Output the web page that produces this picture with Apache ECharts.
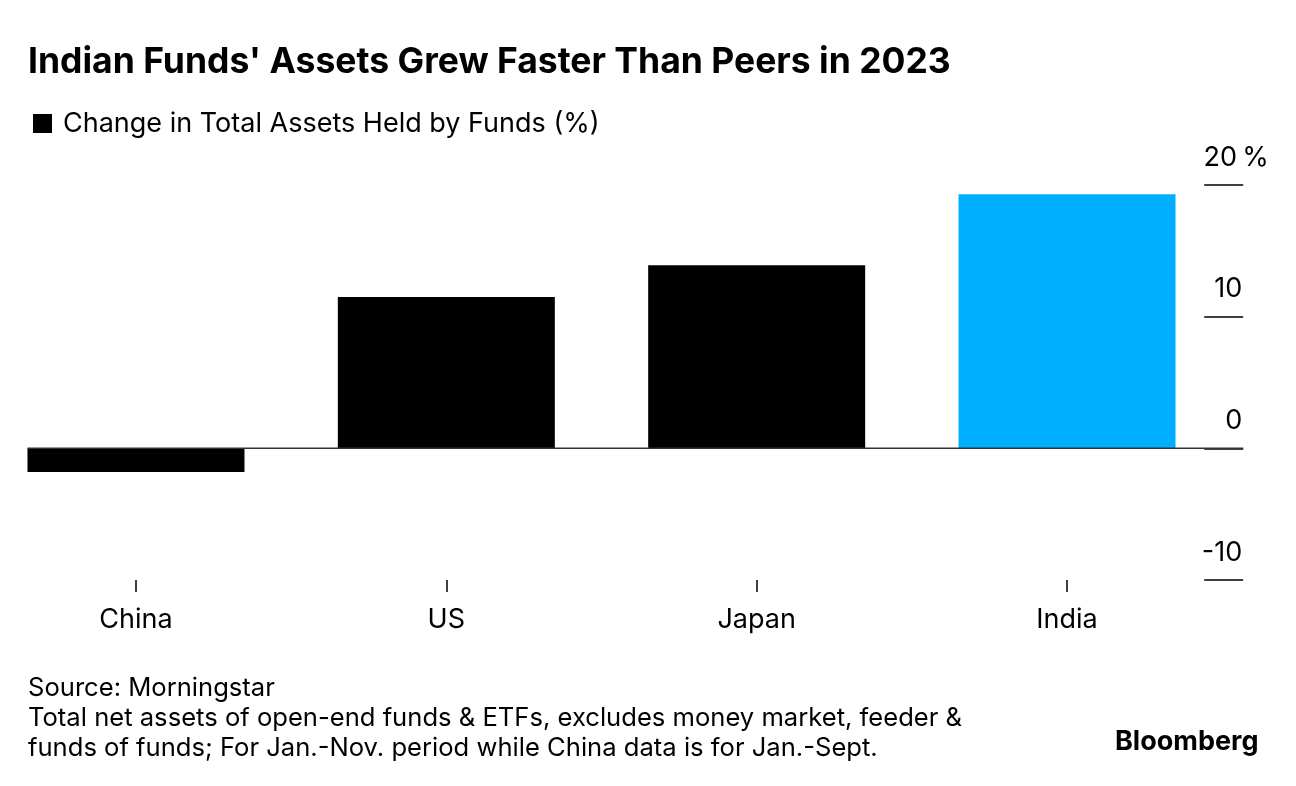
<!DOCTYPE html>
<html>
<head>
<meta charset="utf-8">
<script src="https://cdn.jsdelivr.net/npm/echarts@6/dist/echarts.min.js"></script>
<style>
html,body{margin:0;padding:0;background:#fff;}
#chart{width:1296px;height:786px;}
</style>
</head>
<body>
<div id="chart"></div>
<script>
const categories = ['China', 'US', 'Japan', 'India'];
const values = [-1.8, 11.5, 13.9, 19.3];
const highlight = 'India';
const yTicks = [-10, 0, 10, 20];
const seriesName = 'Change in Total Assets Held by Funds (%)';
const titleText = "Indian Funds' Assets Grew Faster Than Peers in 2023";
const noteText = 'Source: Morningstar\nTotal net assets of open-end funds & ETFs, excludes money market, feeder &\nfunds of funds; For Jan.-Nov. period while China data is for Jan.-Sept.';

const FONT = 'Inter, Liberation Sans, Arial, sans-serif';
const chart = echarts.init(document.getElementById('chart'));
const BAR_W = 217;

const option = {
  animation: false,
  textStyle: { fontFamily: FONT },
  title: [
    { text: titleText, left: 28, top: 42, padding: 0,
      textStyle: { fontSize: 35.5, fontWeight: 'bold', color: '#000', fontFamily: FONT, lineHeight: 40 } },
    { text: noteText, left: 28, top: 673, padding: 0,
      textStyle: { fontSize: 25.6, fontWeight: 'normal', color: '#000', fontFamily: FONT, lineHeight: 30 } },
    { text: 'Bloomberg', left: 1115, top: 727, padding: 0,
      textStyle: { fontSize: 27, fontWeight: 'bold', color: '#000', fontFamily: FONT, lineHeight: 30 } }
  ],
  legend: {
    left: 28, top: 105, icon: 'rect', itemWidth: 19, itemHeight: 19, itemGap: 10,
    selectedMode: false,
    textStyle: { fontSize: 27, color: '#000', fontFamily: FONT, padding: [0, 0, 0, 6] },
    data: [seriesName]
  },
  grid: { left: -19.2, right: 73.8, top: 185, bottom: 206, containLabel: false, outerBoundsMode: 'none' },
  xAxis: {
    type: 'category', data: categories, position: 'bottom',
    axisLine: { show: false, onZero: false },
    axisTick: { show: true, alignWithLabel: true, length: 12, lineStyle: { color: '#000', width: 1.5 } },
    axisLabel: { fontSize: 27, color: '#000', margin: 26, fontFamily: FONT }
  },
  yAxis: {
    type: 'value', position: 'right', offset: 21,
    min: -10, max: 20, interval: 10,
    splitLine: { show: false },
    axisLine: { show: false },
    axisTick: { show: true, inside: true, length: 39, lineStyle: { color: '#000', width: 1.5 } },
    axisLabel: {
      inside: true, align: 'left', verticalAlign: 'bottom', margin: 45,
      color: '#000', fontFamily: FONT, padding: [0, 0, 14, 0],
      formatter: v => v === 20 ? '{n|20}{p|%}' : '{n|' + v + '}',
      rich: {
        n: { fontSize: 27, color: '#000', fontFamily: FONT, width: 44, align: 'right' },
        p: { fontSize: 27, color: '#000', fontFamily: FONT }
      }
    }
  },
  series: [{
    name: seriesName, type: 'bar', barWidth: BAR_W,
    itemStyle: { color: '#000' },
    data: categories.map((c, i) => ({
      value: values[i],
      itemStyle: { color: c === highlight ? '#00aeff' : '#000' }
    }))
  }]
};
chart.setOption(option);

// zero baseline drawn through the chart's own scales
const y0 = chart.convertToPixel({ yAxisIndex: 0 }, 0);
const xStart = chart.convertToPixel({ xAxisIndex: 0 }, 0) - BAR_W / 2;
const yTickEnd = chart.getWidth() - 73.8 + 21;
chart.setOption({
  graphic: [{
    type: 'line', z: 10,
    shape: { x1: xStart, y1: y0, x2: yTickEnd, y2: y0 },
    style: { stroke: '#333', lineWidth: 1.5 }
  }]
});
</script>
</body>
</html>
